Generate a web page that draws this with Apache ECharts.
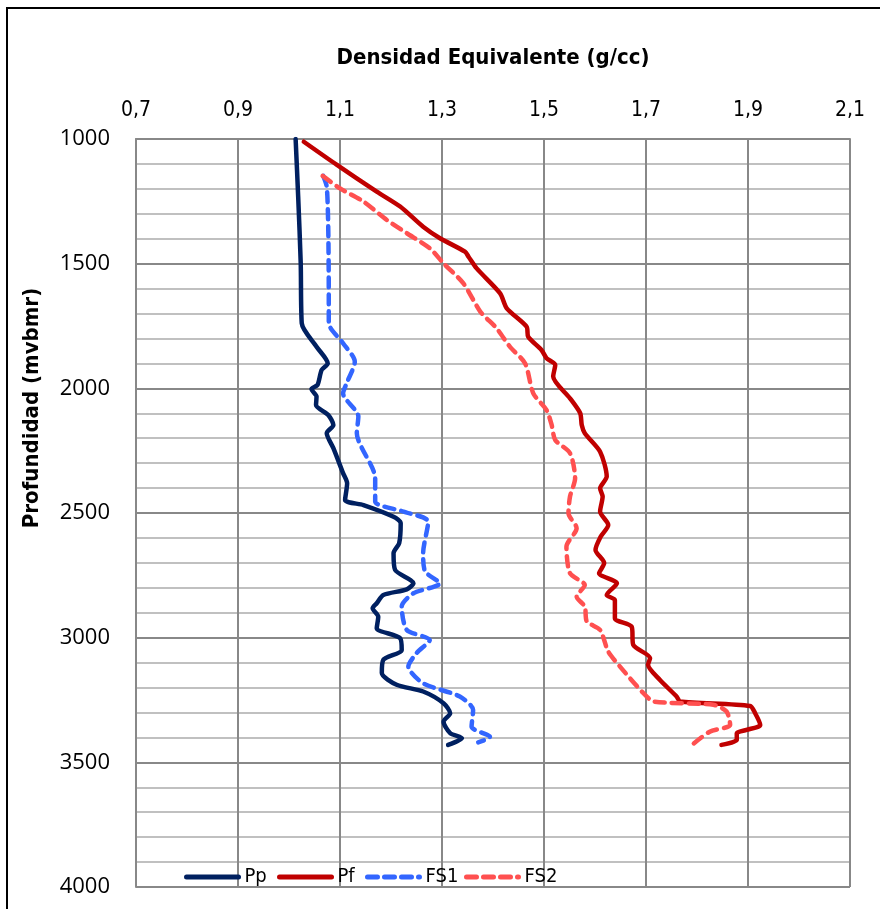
<!DOCTYPE html>
<html>
<head>
<meta charset="utf-8">
<script src="https://cdn.jsdelivr.net/npm/echarts@6/dist/echarts.min.js"></script>
<style>
  html, body { margin: 0; padding: 0; background: #fff; }
  #chart { width: 880px; height: 909px; }
</style>
</head>
<body>
<div id="chart"></div>
<script>
// Density axis ticks (g/cc) and depth axis ticks (m)
const densityTicks = [0.7, 0.9, 1.1, 1.3, 1.5, 1.7, 1.9, 2.1];
const depthTicks = [1000, 1500, 2000, 2500, 3000, 3500, 4000];

// Pp: pore pressure gradient
const ppDensity = [1.013, 1.018, 1.023, 1.025, 1.054, 1.076, 1.064, 1.056, 1.044, 1.054, 1.053, 1.077, 1.087, 1.074, 1.087, 1.106, 1.114, 1.110, 1.146, 1.205, 1.219, 1.216, 1.205, 1.208, 1.244, 1.231, 1.185, 1.172, 1.164, 1.175, 1.172, 1.218, 1.221, 1.185, 1.182, 1.211, 1.263, 1.303, 1.316, 1.303, 1.316, 1.339, 1.312];
const ppDepth   = [1000, 1231, 1499, 1739, 1833, 1900, 1926, 1986, 2003, 2033, 2067, 2107, 2147, 2180, 2240, 2340, 2381, 2448, 2468, 2515, 2541, 2621, 2661, 2728, 2782, 2806, 2829, 2862, 2882, 2916, 2962, 3002, 3049, 3089, 3142, 3189, 3216, 3263, 3303, 3337, 3383, 3403, 3430];

// Pf: fracture gradient
const pfDensity = [1.029, 1.094, 1.172, 1.218, 1.263, 1.296, 1.345, 1.352, 1.368, 1.414, 1.427, 1.466, 1.469, 1.495, 1.505, 1.522, 1.518, 1.551, 1.571, 1.574, 1.580, 1.610, 1.623, 1.610, 1.615, 1.610, 1.626, 1.611, 1.601, 1.618, 1.608, 1.643, 1.623, 1.639, 1.639, 1.672, 1.675, 1.708, 1.704, 1.727, 1.760, 1.767, 1.904, 1.914, 1.924, 1.897, 1.878, 1.878, 1.848];
const pfDepth   = [1011, 1104, 1211, 1271, 1352, 1398, 1452, 1472, 1519, 1619, 1679, 1753, 1793, 1846, 1879, 1906, 1953, 2040, 2100, 2147, 2180, 2254, 2354, 2401, 2434, 2494, 2548, 2595, 2648, 2701, 2742, 2782, 2829, 2849, 2922, 2956, 3029, 3082, 3109, 3169, 3236, 3256, 3274, 3303, 3350, 3370, 3383, 3410, 3430];

// FS1: pore pressure plus safety margin
const fs1Density = [1.067, 1.074, 1.077, 1.078, 1.078, 1.106, 1.129, 1.113, 1.106, 1.136, 1.133, 1.169, 1.169, 1.224, 1.273, 1.263, 1.267, 1.296, 1.244, 1.221, 1.231, 1.276, 1.250, 1.234, 1.263, 1.335, 1.361, 1.358, 1.394, 1.371];
const fs1Depth   = [1148, 1191, 1365, 1632, 1739, 1819, 1893, 1980, 2020, 2113, 2180, 2361, 2454, 2494, 2535, 2661, 2735, 2782, 2822, 2875, 2969, 3009, 3062, 3116, 3183, 3236, 3290, 3357, 3398, 3420];

// FS2: fracture gradient minus safety margin
const fs2Density = [1.066, 1.100, 1.146, 1.192, 1.231, 1.276, 1.303, 1.342, 1.375, 1.407, 1.433, 1.463, 1.479, 1.505, 1.515, 1.522, 1.551, 1.561, 1.551, 1.548, 1.564, 1.544, 1.551, 1.580, 1.564, 1.580, 1.584, 1.610, 1.626, 1.649, 1.695, 1.715, 1.832, 1.858, 1.865, 1.825, 1.786];
const fs2Depth   = [1148, 1198, 1251, 1325, 1378, 1438, 1499, 1579, 1692, 1759, 1833, 1900, 2020, 2087, 2147, 2207, 2260, 2361, 2434, 2501, 2561, 2635, 2742, 2789, 2836, 2875, 2935, 2969, 3056, 3116, 3223, 3256, 3269, 3296, 3350, 3377, 3437];

const seriesNames = ['Pp', 'Pf', 'FS1', 'FS2'];
const seriesColors = ['#002060', '#c00000', '#3366ff', '#ff5050'];
const legendLeft = [184, 277, 365, 464];

function zip(xs, ys) {
  return xs.map((x, i) => [x, ys[i]]);
}

const FONT = '"DejaVu Sans Condensed", "Noto Sans", sans-serif';

const chart = echarts.init(document.getElementById('chart'));

function lineSeries(name, xs, ys, color, dashed) {
  return {
    name: name,
    type: 'line',
    data: zip(xs, ys),
    showSymbol: false,
    symbol: 'none',
    smooth: 0.25,
    lineStyle: {
      color: color,
      width: 4.5,
      type: dashed ? [10, 7] : 'solid',
      cap: 'round',
      join: 'round'
    },
    itemStyle: { color: color },
    z: 3
  };
}

// one legend block per series so each entry sits at its own spot
const legends = seriesNames.map((name, i) => ({
  data: [name],
  left: legendLeft[i],
  top: 867,
  padding: 0,
  itemWidth: 52,
  itemHeight: 24,
  itemGap: 0,
  itemStyle: { opacity: 0, borderWidth: 0 },
  lineStyle: { width: 5, cap: 'round' },
  textStyle: { fontFamily: FONT, fontSize: 20, color: '#000', padding: [0, 0, 0, 1] }
}));

chart.setOption({
  animation: false,
  backgroundColor: '#fff',
  grid: { left: 136, right: 30, top: 139, bottom: 22, containLabel: false },
  xAxis: {
    type: 'value',
    position: 'top',
    min: densityTicks[0],
    max: densityTicks[densityTicks.length - 1],
    interval: 0.2,
    name: 'Densidad Equivalente (g/cc)',
    nameLocation: 'middle',
    nameGap: 70,
    nameTextStyle: { fontFamily: FONT, fontWeight: 'bold', fontSize: 22, color: '#000' },
    axisLine: { show: true, lineStyle: { color: '#888', width: 2 } },
    axisTick: { show: false },
    axisLabel: {
      fontFamily: FONT, fontSize: 21, color: '#000', margin: 18,
      formatter: v => v.toFixed(1).replace('.', ',')
    },
    splitLine: { show: true, lineStyle: { color: '#888', width: 2 } }
  },
  yAxis: {
    type: 'value',
    inverse: true,
    min: depthTicks[0],
    max: depthTicks[depthTicks.length - 1],
    interval: 500,
    axisLine: { show: true, lineStyle: { color: '#888', width: 2 } },
    axisTick: { show: false },
    axisLabel: {
      fontFamily: '"Open Sans", "Noto Sans", sans-serif', fontSize: 22, color: '#000', margin: 26,
      formatter: v => String(v)
    },
    splitLine: { show: true, lineStyle: { color: '#888', width: 2 } },
    minorTick: { show: false, splitNumber: 5 },
    minorSplitLine: { show: true, lineStyle: { color: '#c0c0c0', width: 2 } }
  },
  legend: legends,
  graphic: [
    {
      type: 'rect',
      shape: { x: 7, y: 8, width: 900, height: 940 },
      style: { fill: 'none', stroke: '#000', lineWidth: 2 },
      silent: true, z: -1
    },
    {
      type: 'text',
      x: 32, y: 408,
      rotation: Math.PI / 2,
      style: {
        text: 'Profundidad (mvbmr)',
        fontFamily: FONT, fontWeight: 'bold', fontSize: 22, fill: '#000',
        align: 'center', verticalAlign: 'middle'
      }
    }
  ],
  series: seriesNames.map((name, i) => {
    const xs = [ppDensity, pfDensity, fs1Density, fs2Density][i];
    const ys = [ppDepth, pfDepth, fs1Depth, fs2Depth][i];
    return lineSeries(name, xs, ys, seriesColors[i], i >= 2);
  })
});
</script>
</body>
</html>
